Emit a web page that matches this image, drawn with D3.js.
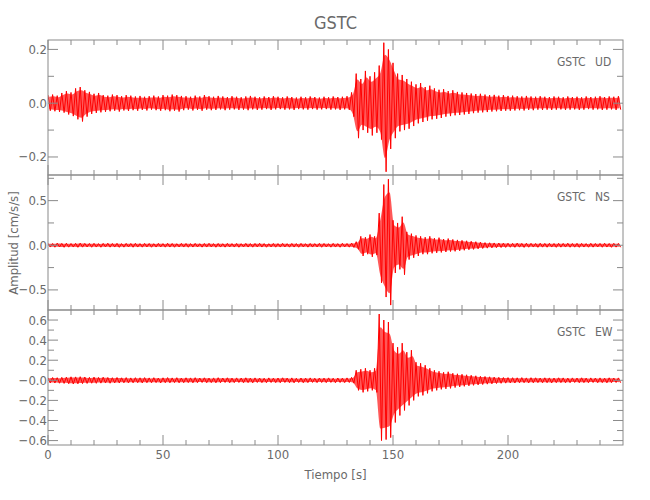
<!DOCTYPE html>
<html><head><meta charset="utf-8">
<script src="https://cdn.jsdelivr.net/npm/d3@7"></script>
<style>
body{margin:0;background:#fff}
svg{display:block}
text{font-family:"Liberation Sans Narrow","Arial Narrow","DejaVu Sans Condensed",sans-serif;fill:#6a6a6a}
</style>
</head><body>
<svg id="c" width="650" height="500"></svg>
<script>
const station = "GSTC";
const components = ["UD", "NS", "EW"];
const binSeconds = 2;           // each value = envelope of one 2 s bin, t = 0..248
const timeDomain = [0, 250];

// ---- UD envelope (upper / lower magnitude), cm/s/s
const udMax = [
.030,.032,.028,.038,.045,.040,.055,.060,.048,.042,
.035,.038,.030,.028,.032,.030,.026,.030,.028,.025,
.027,.024,.026,.028,.025,.030,.028,.032,.030,.027,
.026,.024,.028,.025,.030,.026,.024,.027,.025,.023,
.026,.024,.022,.025,.027,.024,.022,.025,.023,.026,
.024,.022,.025,.023,.021,.024,.022,.025,.023,.021,
.024,.022,.025,.023,.024,.026,.040,.110,.090,.120,
.100,.115,.140,.225,.200,.150,.110,.105,.090,.080,
.070,.075,.060,.065,.055,.050,.052,.045,.048,.042,
.040,.038,.036,.034,.035,.032,.030,.031,.028,.030,
.027,.028,.026,.025,.027,.025,.024,.026,.024,.023,
.025,.024,.022,.025,.023,.024,.022,.025,.023,.024,
.026,.023,.025,.024,.026];
const udMin = [
.028,.030,.032,.035,.042,.048,.060,.068,.050,.040,
.036,.034,.032,.030,.028,.031,.027,.029,.026,.028,
.025,.027,.024,.026,.028,.026,.030,.028,.031,.026,
.024,.027,.025,.028,.024,.026,.025,.023,.026,.024,
.023,.025,.024,.026,.023,.025,.024,.022,.025,.023,
.022,.024,.023,.025,.022,.023,.024,.022,.024,.023,
.022,.024,.023,.025,.023,.025,.050,.130,.100,.110,
.120,.110,.135,.255,.170,.130,.105,.100,.095,.085,
.075,.070,.065,.060,.058,.055,.050,.048,.045,.044,
.042,.040,.037,.035,.034,.033,.031,.030,.029,.028,
.028,.027,.026,.027,.025,.026,.024,.025,.024,.025,
.024,.023,.025,.024,.023,.025,.024,.022,.024,.023,
.025,.024,.023,.025,.024];

// ---- NS envelope
const nsMax = [
.022,.020,.024,.021,.023,.020,.022,.024,.021,.020,
.022,.019,.021,.023,.020,.022,.019,.021,.020,.022,
.019,.021,.020,.018,.021,.019,.022,.020,.018,.021,
.020,.019,.021,.018,.020,.022,.019,.020,.018,.021,
.019,.020,.018,.021,.019,.020,.022,.019,.018,.020,
.019,.021,.018,.020,.019,.021,.018,.020,.019,.021,
.020,.018,.021,.019,.022,.020,.025,.040,.100,.090,
.120,.100,.360,.680,.740,.280,.250,.320,.150,.130,
.110,.100,.090,.100,.080,.085,.070,.075,.065,.060,
.055,.050,.045,.040,.035,.030,.028,.026,.025,.024,
.023,.022,.024,.021,.023,.022,.020,.023,.021,.022,
.020,.022,.021,.023,.020,.022,.021,.019,.022,.020,
.021,.023,.020,.022,.021];
const nsMin = [
.020,.022,.019,.023,.021,.020,.023,.021,.019,.022,
.020,.022,.019,.021,.020,.023,.021,.019,.022,.020,
.021,.019,.022,.020,.019,.021,.020,.022,.019,.020,
.022,.020,.019,.021,.020,.019,.022,.020,.021,.019,
.020,.022,.019,.020,.021,.019,.020,.022,.019,.021,
.020,.019,.021,.020,.022,.019,.021,.020,.019,.022,
.019,.021,.020,.022,.019,.021,.024,.045,.120,.100,
.130,.110,.420,.580,.670,.310,.270,.330,.160,.140,
.120,.100,.100,.090,.085,.080,.075,.070,.068,.062,
.056,.050,.046,.040,.036,.032,.029,.027,.025,.024,
.022,.023,.021,.024,.022,.020,.023,.021,.022,.020,
.023,.021,.020,.022,.021,.023,.020,.022,.021,.019,
.022,.020,.023,.021,.022];

// ---- EW envelope
const ewMax = [
.025,.028,.026,.030,.032,.035,.034,.036,.033,.030,
.032,.029,.031,.028,.026,.028,.025,.027,.024,.026,
.025,.027,.024,.026,.023,.025,.027,.024,.026,.023,
.025,.024,.026,.023,.025,.022,.024,.026,.023,.025,
.022,.024,.023,.025,.022,.024,.023,.021,.024,.022,
.023,.025,.022,.024,.021,.023,.022,.024,.021,.023,
.022,.024,.021,.023,.022,.024,.030,.100,.110,.120,
.100,.120,.660,.600,.580,.370,.330,.370,.280,.300,
.180,.170,.150,.120,.100,.090,.080,.085,.070,.065,
.060,.055,.050,.045,.040,.038,.035,.032,.030,.028,
.027,.026,.025,.027,.024,.026,.025,.023,.025,.024,
.023,.025,.024,.022,.024,.023,.025,.022,.024,.023,
.024,.022,.025,.023,.024];
const ewMin = [
.026,.027,.029,.031,.034,.037,.035,.033,.031,.029,
.030,.028,.027,.029,.026,.027,.025,.026,.025,.024,
.026,.024,.025,.023,.026,.024,.025,.023,.025,.024,
.023,.025,.024,.022,.024,.023,.025,.024,.022,.024,
.023,.022,.024,.023,.025,.022,.023,.024,.022,.023,
.024,.022,.023,.025,.022,.024,.023,.021,.023,.022,
.023,.021,.024,.022,.023,.022,.028,.100,.120,.110,
.100,.120,.600,.590,.570,.420,.350,.300,.250,.200,
.160,.150,.130,.110,.100,.090,.085,.080,.072,.066,
.060,.055,.050,.046,.042,.038,.035,.032,.030,.028,
.026,.027,.025,.024,.026,.025,.023,.025,.024,.026,
.024,.023,.025,.024,.022,.024,.023,.025,.022,.024,
.023,.025,.024,.022,.024];

const envelopes = [[udMax, udMin], [nsMax, nsMin], [ewMax, ewMin]];

// axes
const yDomains = [[-0.267, 0.235], [-0.725, 0.787], [-0.644, 0.700]];
const yMajor = [[-0.2, 0, 0.2], [-0.5, 0, 0.5], [-0.6, -0.4, -0.2, 0, 0.2, 0.4, 0.6]];
const yMajorLabels = [["−0.2", "0.0", "0.2"], ["−0.5", "0.0", "0.5"],
  ["−0.6", "−0.4", "−0.2", "−0.0", "0.2", "0.4", "0.6"]];
const yMinor = [[-0.1, 0.1], [-0.25, 0.25, 0.75], [-0.5, -0.3, -0.1, 0.1, 0.3, 0.5]];
const xMajor = [0, 50, 100, 150, 200];
const xMajorLabels = ["0", "50", "100", "150", "200"];
const xMinor = [10,20,30,40,60,70,80,90,110,120,130,140,160,170,180,190,210,220,230,240];

const titleText = "GSTC";
const xTitle = "Tiempo [s]";
const yTitle = "Amplitud [cm/s/s]";

// layout
const L = 48, R = 623;
const panelTops = [40, 175, 310];
const panelH = 135;
const axisColor = "#8a8a8a";

const svg = d3.select("#c");
const x = d3.scaleLinear().domain(timeDomain).range([L, R]);

svg.append("defs").selectAll("clipPath").data(panelTops).join("clipPath")
  .attr("id", (d, i) => "clip" + i)
  .append("rect").attr("x", L).attr("y", d => d).attr("width", R - L).attr("height", panelH);

panelTops.forEach((top, p) => {
  const y = d3.scaleLinear().domain(yDomains[p]).range([top + panelH, top]);
  const g = svg.append("g");
  const [hi, lo] = envelopes[p];

  const pts = [];
  hi.forEach((v, i) => {
    pts.push([i * binSeconds, v]);
    pts.push([i * binSeconds + binSeconds / 2, -lo[i]]);
  });
  const tg = g.append("g").attr("clip-path", `url(#clip${p})`);

  // filled band between the envelopes (dense overlapping oscillations)
  const band = hi.map((v, i) => [i * binSeconds + binSeconds / 4, v * 0.8, -lo[i] * 0.8]);
  tg.append("path")
    .attr("d", d3.area().x(d => x(d[0])).y0(d => y(d[2])).y1(d => y(d[1])).curve(d3.curveMonotoneX)(band))
    .attr("fill", "#ff2020").attr("fill-opacity", 0.75);

  // trace: zig-zag between upper and lower envelope of each bin
  tg.append("path")
    .attr("d", d3.line().x(d => x(d[0])).y(d => y(d[1]))(pts))
    .attr("fill", "none").attr("stroke", "#ff0000").attr("stroke-width", 1);

  // frame
  g.append("rect").attr("x", L).attr("y", top).attr("width", R - L).attr("height", panelH)
    .attr("fill", "none").attr("stroke", axisColor).attr("stroke-width", 1);

  // x ticks (top & bottom, inward)
  const xt = xMajor.map(v => [v, 10]).concat(xMinor.map(v => [v, 5]));
  xt.forEach(([v, len]) => {
    g.append("line").attr("x1", x(v)).attr("x2", x(v)).attr("y1", top + panelH).attr("y2", top + panelH - len)
      .attr("stroke", axisColor);
    g.append("line").attr("x1", x(v)).attr("x2", x(v)).attr("y1", top).attr("y2", top + len)
      .attr("stroke", axisColor);
  });

  // y ticks (left & right, inward)
  const yt = yMajor[p].map(v => [v, 10]).concat(yMinor[p].map(v => [v, 6]));
  yt.forEach(([v, len]) => {
    g.append("line").attr("x1", L).attr("x2", L + len).attr("y1", y(v)).attr("y2", y(v)).attr("stroke", axisColor);
    g.append("line").attr("x1", R).attr("x2", R - len).attr("y1", y(v)).attr("y2", y(v)).attr("stroke", axisColor);
  });
  yMajor[p].forEach((v, i) => {
    g.append("text").attr("x", L - 1).attr("y", y(v) + 4.5)
      .attr("text-anchor", "end").attr("font-size", 13).text(yMajorLabels[p][i]);
  });

  // component label
  g.append("text").attr("x", 557).attr("y", top + 26).attr("font-size", 12).text(station);
  g.append("text").attr("x", 595).attr("y", top + 26).attr("font-size", 12).text(components[p]);
});

// x tick labels
const bottom = panelTops[2] + panelH;
xMajor.forEach((v, i) => {
  svg.append("text").attr("x", x(v)).attr("y", bottom + 14).attr("text-anchor", "middle")
    .attr("font-size", 13).text(xMajorLabels[i]);
});

svg.append("text").attr("x", (L + R) / 2).attr("y", 29).attr("text-anchor", "middle")
  .attr("font-size", 18).text(titleText);
svg.append("text").attr("x", (L + R) / 2).attr("y", 479).attr("text-anchor", "middle")
  .attr("font-size", 13).text(xTitle);
svg.append("text").attr("transform", "translate(18,243) rotate(-90)").attr("text-anchor", "middle")
  .attr("font-size", 13).text(yTitle);
</script>
</body></html>
